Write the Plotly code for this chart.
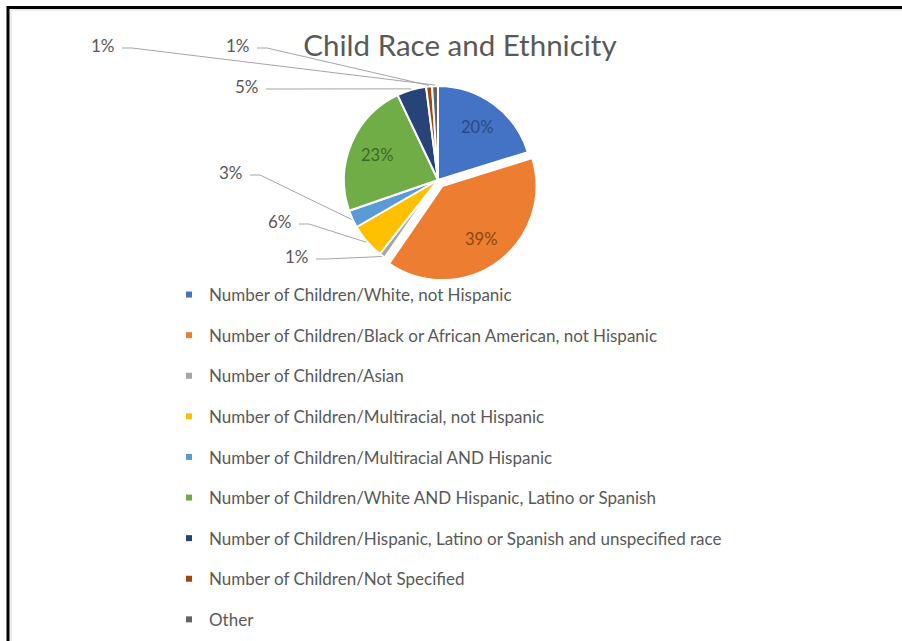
import math
import plotly.graph_objects as go

# ---- data -------------------------------------------------------------
categories = [
    "Number of Children/White, not Hispanic",
    "Number of Children/Black or African American, not Hispanic",
    "Number of Children/Asian",
    "Number of Children/Multiracial, not Hispanic",
    "Number of Children/Multiracial AND Hispanic",
    "Number of Children/White AND Hispanic, Latino or Spanish",
    "Number of Children/Hispanic, Latino or Spanish and unspecified race",
    "Number of Children/Not Specified",
    "Other",
]
shares = [20, 39, 1, 6, 3, 23, 5, 1, 1]

# ---- styling ------------------------------------------------------------
colors = ["#4472C4", "#ED7D31", "#A5A5A5", "#FFC000", "#5B9BD5",
          "#70AD47", "#264478", "#9E480E", "#636363"]
pulls = [0, 0.08, 0, 0, 0, 0, 0, 0, 0]
FONT = "Lato"
TEXT_GREY = "#595959"
LEADER_GREY = "#A6A6A6"

W, H = 902, 641
CX, CY, R = 438, 180, 94          # pie centre / radius in pixels

# labels drawn inside the slice (index -> text colour)
inside_labels = {0: "#2B4A80", 1: "#8A4714", 5: "#3E6826"}
# labels drawn outside with a leader line (index -> label centre, px)
outside_labels = {
    8: (103, 45),
    7: (238, 45),
    6: (247, 86),
    4: (231, 172),
    3: (280, 221),
    2: (297, 256),
}


def px(x):
    return x / W


def py(y):
    return 1 - y / H


total = sum(shares)
pcts = [round(v / total * 100) for v in shares]

# angle of each slice's midpoint, clockwise from 12 o'clock
mid_angles = []
acc = 0.0
for v in shares:
    mid_angles.append((acc + v / 2) / total * 2 * math.pi)
    acc += v


def polar(i, r):
    a = mid_angles[i]
    off = pulls[i] * R
    x = CX + (r + off) * math.sin(a)
    y = CY - (r + off) * math.cos(a)
    return x, y


box = 2 * R * (1 + max(pulls))

fig = go.Figure()
fig.add_trace(go.Pie(
    labels=categories,
    values=shares,
    sort=False,
    direction="clockwise",
    rotation=0,
    pull=pulls,
    marker=dict(colors=colors, line=dict(color="white", width=2)),
    textinfo="none",
    hoverinfo="skip",
    showlegend=False,
    domain=dict(x=[px(CX - box / 2), px(CX + box / 2)],
                y=[py(CY + box / 2), py(CY - box / 2)]),
))

# legend entries, one group each so the rows can be spaced out
for name, col in zip(categories, colors):
    fig.add_trace(go.Scatter(
        x=[None], y=[None], mode="markers", name=name, legendgroup=name,
        marker=dict(symbol="square", size=6, color=col),
    ))

annotations = []
shapes = []

for i, col in inside_labels.items():
    x, y = polar(i, 0.7 * R)
    annotations.append(dict(
        x=px(x), y=py(y), xref="paper", yref="paper", showarrow=False,
        text=f"{pcts[i]}%", font=dict(family=FONT, size=16.5, color=col),
        xanchor="center", yanchor="middle",
    ))

for i, (lx, ly) in outside_labels.items():
    annotations.append(dict(
        x=px(lx), y=py(ly), xref="paper", yref="paper", showarrow=False,
        text=f"{pcts[i]}%", font=dict(family=FONT, size=17, color=TEXT_GREY),
        xanchor="center", yanchor="middle",
    ))
    sx, sy = lx + 19, ly + 3
    ex, ey = polar(i, R + 1)
    path = (f"M {px(sx)} {py(sy)} L {px(sx + 10)} {py(sy)} "
            f"L {px(ex)} {py(ey)}")
    shapes.append(dict(type="path", xref="paper", yref="paper", path=path,
                       line=dict(color=LEADER_GREY, width=1)))

# frame around the chart
shapes.append(dict(type="line", xref="paper", yref="paper",
                   x0=px(7), x1=1, y0=py(7.5), y1=py(7.5),
                   line=dict(color="black", width=3)))
shapes.append(dict(type="line", xref="paper", yref="paper",
                   x0=px(8), x1=px(8), y0=py(6), y1=0,
                   line=dict(color="black", width=3)))
shapes.append(dict(type="line", xref="paper", yref="paper",
                   x0=px(11), x1=1, y0=py(10), y1=py(10),
                   line=dict(color="#D9D9D9", width=1)))
shapes.append(dict(type="line", xref="paper", yref="paper",
                   x0=px(11), x1=px(11), y0=py(10), y1=0,
                   line=dict(color="#D9D9D9", width=1)))

fig.update_layout(
    width=W, height=H,
    margin=dict(l=0, r=0, t=0, b=0, autoexpand=False),
    paper_bgcolor="white", plot_bgcolor="white",
    title=dict(text="Child Race and Ethnicity", x=px(460), y=py(46),
               xanchor="center", yanchor="middle",
               font=dict(family=FONT, size=29.5, color=TEXT_GREY)),
    xaxis=dict(visible=False), yaxis=dict(visible=False),
    legend=dict(x=px(169), y=py(277), xanchor="left", yanchor="top",
                font=dict(family=FONT, size=17, color=TEXT_GREY),
                tracegroupgap=15.5, traceorder="grouped",
                bgcolor="rgba(0,0,0,0)", itemclick=False),
    annotations=annotations,
    shapes=shapes,
    showlegend=True,
)

fig.write_html("out.html")
